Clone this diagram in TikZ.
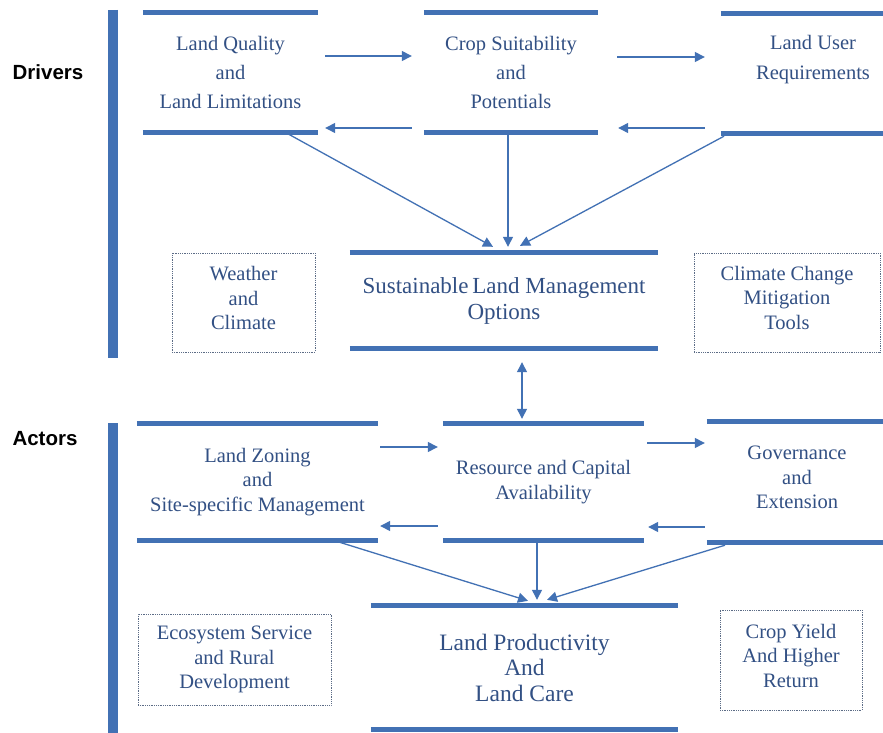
\documentclass[tikz,border=0pt]{standalone}
\usepackage{fontspec}
\setmainfont{Liberation Serif}
\newfontfamily\tagfont{Liberation Sans}
\usetikzlibrary{arrows.meta}

\definecolor{barblue}{RGB}{66,113,180}
\definecolor{txtblue}{RGB}{50,80,132}
\definecolor{dotgray}{RGB}{92,108,134}

\begin{document}
\begin{tikzpicture}[x=1pt, y=-1pt,
    bar/.style={barblue, line width=5pt},
    side/.style={barblue, line width=10pt},
    arr/.style={barblue, line width=1.3pt, -{Triangle[length=10pt,width=10pt]}},
    box/.style={inner sep=0pt, align=center, text=txtblue,
      font=\fontsize{20.5}{24.5}\selectfont},
    note/.style={box, draw=dotgray, densely dotted, line width=0.8pt},
    tag/.style={font=\tagfont\bfseries\fontsize{20.5}{24}\selectfont}]
      % 1. 畫布
      \fill[white] (0,0) rectangle (883,733);
      \useasboundingbox (0,0) rectangle (883,733);

      % 2. 左側標籤與直條
      \node[tag] (drivers) at (48,72) {Drivers};
      \node[tag] (actors) at (45,439) {Actors};
      \draw[side] (113,10) -- (113,358);
      \draw[side] (113,423) -- (113,745);

      % 3. 上排三個方框
      \node[box, minimum width=175, minimum height=119,
        font=\fontsize{20.5}{29}\selectfont] (LQ) at (230.5,72.5)
        {Land Quality\\and\\Land Limitations};
      \node[box, minimum width=174, minimum height=119,
        font=\fontsize{20.5}{29}\selectfont] (CS) at (511,72.5)
        {Crop Suitability\\and\\Potentials};
      \node[box, minimum width=184, minimum height=119] (LU) at (813,73.5) {};
      \node[box, font=\fontsize{20.5}{30}\selectfont] (LUt)
        at ([yshift=13.5pt]LU.center) {Land User\\Requirements};

      % 4. 中間的方框
      \node[box, minimum width=308, minimum height=95,
        font=\fontsize{23}{26}\selectfont] (SLM) at (504,300.5)
        {Sustainable\,Land Management\\Options};
      \node[note, minimum width=143, minimum height=99] (WC) at (243.5,302.5) {};
      \node[box] (WCt) at ([yshift=4.5pt]WC.center) {Weather\\and\\Climate};
      \node[note, minimum width=186, minimum height=99] (CC) at (787,302.5) {};
      \node[box] (CCt) at ([yshift=5pt]CC.center) {Climate Change\\Mitigation\\Tools};

      % 5. 下排三個方框
      \node[box, minimum width=241, minimum height=116] (LZ) at (257.5,482)
        {Land Zoning\\and\\Site-specific Management};
      \node[box, minimum width=201, minimum height=116] (RC) at (543.5,482)
        {Resource and Capital\\Availability};
      \node[box, minimum width=180, minimum height=120] (GE) at (797,482) {};
      \node[box] (GEt) at ([yshift=4.5pt]GE.center) {Governance\\and\\Extension};

      % 6. 最下面的方框
      \node[box, minimum width=307, minimum height=123,
        font=\fontsize{23.5}{25.5}\selectfont] (LP) at (524.5,667.5)
        {Land Productivity\\And\\Land Care};
      \node[note, minimum width=193, minimum height=91] (ES) at (234.5,659.5)
        {Ecosystem Service\\and Rural\\Development};
      \node[note, minimum width=142, minimum height=100] (CY) at (791,660) {};
      \node[box] (CYt) at ([yshift=4.5pt]CY.center) {Crop Yield\\And Higher\\Return};

      % 7. 方框上下的粗線
      \draw[bar] (LQ.north west) -- (LQ.north east) (LQ.south west) -- (LQ.south east);
      \draw[bar] (CS.north west) -- (CS.north east) (CS.south west) -- (CS.south east);
      \draw[bar] (LU.north west) -- (LU.north east) (LU.south west) -- (LU.south east);
      \draw[bar] (SLM.north west) -- (SLM.north east) (SLM.south west) -- (SLM.south east);
      \draw[bar] (LZ.north west) -- (LZ.north east) (LZ.south west) -- (LZ.south east);
      \draw[bar] (RC.north west) -- (RC.north east) (RC.south west) -- (RC.south east);
      \draw[bar] (GE.north west) -- (GE.north east) (GE.south west) -- (GE.south east);
      \draw[bar] (LP.north west) -- (LP.north east) (LP.south west) -- (LP.south east);

      % 8. 上排之間的箭頭
      \draw[arr] ([xshift=7pt,yshift=16.5pt]LQ.east) -- ([xshift=-12pt,yshift=16.5pt]CS.west);
      \draw[arr] ([xshift=-12pt,yshift=-55.5pt]CS.west) -- ([xshift=7pt,yshift=-55.5pt]LQ.east);
      \draw[arr] ([xshift=19pt,yshift=15.5pt]CS.east) -- ([xshift=-16pt,yshift=16.5pt]LU.west);
      \draw[arr] ([xshift=-16pt,yshift=-54.5pt]LU.west) -- ([xshift=20pt,yshift=-55.5pt]CS.east);

      % 9. 匯到 SLM 的箭頭
      \draw[arr] ([xshift=54.5pt]LQ.south) -- ([xshift=-11pt,yshift=6pt]SLM.north);
      \draw[arr] ([xshift=-3pt]CS.south) -- ([xshift=4pt,yshift=6pt]SLM.north);
      \draw[arr] ([xshift=-89pt,yshift=-3pt]LU.south) -- ([xshift=16pt,yshift=7pt]SLM.north);

      % 10. SLM 與下排之間的雙向箭頭
      \draw[arr, {Triangle[length=10pt,width=10pt]}-{Triangle[length=10pt,width=10pt]}]
        ([xshift=18pt,yshift=-14pt]SLM.south) -- ([xshift=-21.5pt,yshift=5pt]RC.north);

      % 11. 下排之間的箭頭
      \draw[arr] ([xshift=2pt,yshift=35pt]LZ.east) -- ([xshift=-5pt,yshift=35pt]RC.west);
      \draw[arr] ([xshift=-5pt,yshift=-44pt]RC.west) -- ([xshift=2pt,yshift=-44pt]LZ.east);
      \draw[arr] ([xshift=3pt,yshift=39pt]RC.east) -- ([xshift=-2pt,yshift=39pt]GE.west);
      \draw[arr] ([xshift=-2pt,yshift=-45pt]GE.west) -- ([xshift=4pt,yshift=-45pt]RC.east);

      % 12. 匯到 LP 的箭頭
      \draw[arr] ([xshift=75.5pt]LZ.south) -- ([xshift=3.5pt,yshift=5pt]LP.north);
      \draw[arr] ([xshift=-6.5pt]RC.south) -- ([xshift=12.5pt,yshift=6pt]LP.north);
      \draw[arr] ([xshift=-72pt,yshift=-3pt]GE.south) -- ([xshift=22.5pt,yshift=6pt]LP.north);
    \end{tikzpicture}
\end{document}
